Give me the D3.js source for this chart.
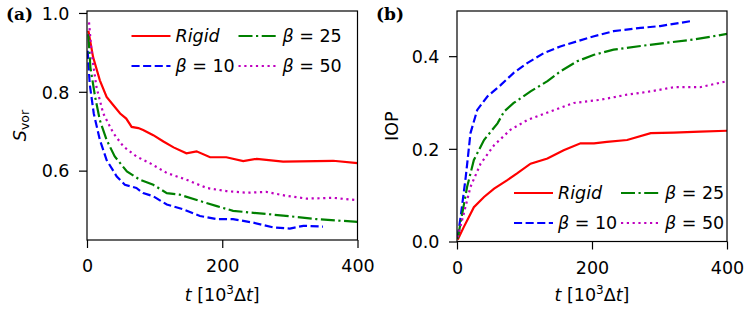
<!DOCTYPE html>
<html>
<head>
<meta charset="utf-8">
<script src="https://cdn.jsdelivr.net/npm/d3@7.9.0/dist/d3.min.js"></script>
<style>
  body { margin: 0; background: #fff; }
  svg { display: block; font-family: "DejaVu Sans", sans-serif; }
</style>
</head>
<body>
<svg id="chart" width="748" height="310"></svg>
<script>
// series names, in legend order
const seriesNames = ["Rigid", "β = 10", "β = 25", "β = 50"];
const xTicks = [0, 200, 400];
const yTicksA = [0.6, 0.8, 1.0];
const yTicksB = [0.0, 0.2, 0.4];

// panel (a): S_vor against t as [t, value]
const svorRigid = [[2, 0.955], [9, 0.888], [19, 0.829], [29, 0.787], [39, 0.766], [49, 0.745], [58, 0.732],
  [66, 0.711], [76, 0.708], [83, 0.703], [98, 0.690], [113, 0.674], [128, 0.659], [147, 0.644],
  [162, 0.649], [182, 0.634], [206, 0.634], [231, 0.624], [251, 0.630], [290, 0.623], [339, 0.624],
  [364, 0.625], [400, 0.619]];
const svorB10 = [[1, 0.904], [4, 0.820], [10, 0.745], [19, 0.678], [29, 0.627], [44, 0.585], [56, 0.564],
  [73, 0.556], [83, 0.543], [98, 0.535], [118, 0.514], [142, 0.502], [167, 0.485], [192, 0.477],
  [216, 0.477], [246, 0.468], [275, 0.456], [300, 0.453], [320, 0.460], [349, 0.458]];
const svorB25 = [[2, 0.946], [5, 0.862], [12, 0.787], [19, 0.728], [29, 0.678], [41, 0.636], [59, 0.598],
  [78, 0.577], [98, 0.564], [118, 0.543], [137, 0.539], [167, 0.523], [192, 0.510], [216, 0.498],
  [246, 0.493], [290, 0.486], [339, 0.477], [400, 0.470]];
const svorB50 = [[3, 0.976], [7, 0.896], [14, 0.812], [24, 0.745], [39, 0.695], [54, 0.661], [73, 0.636],
  [93, 0.619], [118, 0.594], [147, 0.577], [177, 0.556], [206, 0.548], [236, 0.544], [265, 0.546],
  [295, 0.536], [325, 0.529], [364, 0.531], [400, 0.525]];

// panel (b): IOP against t
const iopRigid = [[1, 0.004], [10, 0.031], [25, 0.074], [40, 0.096], [55, 0.114], [74, 0.132], [89, 0.147],
  [109, 0.168], [134, 0.179], [158, 0.197], [183, 0.212], [203, 0.212], [222, 0.215], [252, 0.219],
  [287, 0.234], [321, 0.235], [360, 0.237], [400, 0.239]];
const iopB10 = [[1, 0.009], [6, 0.060], [13, 0.140], [20, 0.234], [30, 0.284], [45, 0.313], [65, 0.338],
  [84, 0.364], [104, 0.385], [129, 0.407], [153, 0.421], [178, 0.432], [203, 0.443], [232, 0.454],
  [272, 0.461], [301, 0.465], [331, 0.472], [348, 0.476]];
const iopB25 = [[1, 0.006], [6, 0.046], [15, 0.118], [25, 0.176], [40, 0.219], [60, 0.255], [70, 0.281],
  [84, 0.299], [109, 0.324], [134, 0.346], [153, 0.367], [178, 0.389], [203, 0.403], [232, 0.414],
  [272, 0.422], [311, 0.429], [351, 0.436], [400, 0.448]];
const iopB50 = [[1, 0.009], [10, 0.060], [20, 0.118], [35, 0.168], [55, 0.208], [79, 0.241], [104, 0.262],
  [139, 0.281], [173, 0.299], [213, 0.306], [252, 0.317], [287, 0.324], [321, 0.333], [360, 0.333],
  [400, 0.346]];

const colors = ["#ff0000", "#0000ff", "#008000", "#bf00bf"];
const dashes = [null, "8.1,3.5", "14,3.5,2.2,3.5", "2.2,3.6"];

const svg = d3.select("#chart");

function panel(cfg) {
  const x = d3.scaleLinear().domain([0, 400]).range([cfg.left, cfg.right]);
  const y = d3.scaleLinear().domain(cfg.yDomain).range([cfg.bottom, cfg.top]);
  const g = svg.append("g");

  g.append("clipPath").attr("id", cfg.id)
    .append("rect")
    .attr("x", cfg.left).attr("y", cfg.top)
    .attr("width", cfg.right - cfg.left).attr("height", cfg.bottom - cfg.top);

  const line = d3.line().x(d => x(d[0])).y(d => y(d[1]));
  g.append("g").attr("clip-path", `url(#${cfg.id})`)
    .selectAll("path")
    .data(cfg.series)
    .join("path")
    .attr("d", d => line(d))
    .attr("fill", "none")
    .attr("stroke", (d, i) => colors[i])
    .attr("stroke-width", 2.2)
    .attr("stroke-dasharray", (d, i) => dashes[i]);

  // axes
  const xa = g.append("g").attr("transform", `translate(0,${cfg.bottom})`)
    .call(d3.axisBottom(x).tickValues(xTicks).tickSize(8).tickSizeOuter(0).tickPadding(12).tickFormat(d3.format("d")));
  const ya = g.append("g").attr("transform", `translate(${cfg.left},0)`)
    .call(d3.axisLeft(y).tickValues(cfg.yTicks).tickSize(8).tickSizeOuter(0).tickPadding(9.5).tickFormat(d3.format(".1f")));
  [xa, ya].forEach(a => {
    a.select(".domain").remove();
    a.selectAll("line").attr("stroke", "#000").attr("stroke-width", 1.2);
    a.selectAll("text").attr("font-size", 17.5).attr("fill", "#000").attr("font-family", "DejaVu Sans");
  });
  ya.selectAll("text").attr("dy", "0.36em");

  g.append("rect")
    .attr("x", cfg.left).attr("y", cfg.top)
    .attr("width", cfg.right - cfg.left).attr("height", cfg.bottom - cfg.top)
    .attr("fill", "none").attr("stroke", "#000").attr("stroke-width", 1.2);

  // x label: t [10^3 Δt]
  const xl = g.append("text")
    .attr("x", (cfg.left + cfg.right) / 2).attr("y", 301)
    .attr("text-anchor", "middle").attr("font-size", 17.5);
  xl.append("tspan").attr("font-style", "italic").text("t");
  xl.append("tspan").text(" [10");
  xl.append("tspan").attr("font-size", 12).attr("dy", -7).text("3");
  xl.append("tspan").attr("dy", 7).text("Δ");
  xl.append("tspan").attr("font-style", "italic").text("t");
  xl.append("tspan").text("]");

  // y label
  const yl = g.append("text")
    .attr("transform", `translate(${cfg.yLabelX},${(cfg.top + cfg.bottom) / 2}) rotate(-90)`)
    .attr("text-anchor", "middle").attr("font-size", 17.5);
  cfg.yLabel(yl);

  // panel letter
  g.append("text")
    .attr("x", cfg.letterX).attr("y", 20)
    .attr("font-family", "DejaVu Serif").attr("font-weight", "bold").attr("font-size", 17)
    .text(cfg.letter);

  // legend
  const leg = g.append("g");
  seriesNames.forEach((name, i) => {
    const col = Math.floor(i / 2), row = i % 2;
    const lx = cfg.legX[col], ly = cfg.legY[row];
    leg.append("line")
      .attr("x1", lx).attr("x2", lx + 39).attr("y1", ly).attr("y2", ly)
      .attr("stroke", colors[i]).attr("stroke-width", 2.2)
      .attr("stroke-dasharray", dashes[i]);
    const t = leg.append("text")
      .attr("x", lx + 44).attr("y", ly).attr("dy", "0.36em")
      .attr("font-size", 17.5);
    if (name === "Rigid") {
      t.attr("font-style", "italic").text(name);
    } else {
      t.append("tspan").attr("font-style", "italic").text("β");
      t.append("tspan").text(name.slice(1));
    }
  });
}

panel({
  id: "clipA", letter: "(a)", letterX: 6,
  left: 87, right: 357.5, top: 11, bottom: 240,
  yDomain: [0.424, 1.005], yTicks: yTicksA,
  series: [svorRigid, svorB10, svorB25, svorB50],
  yLabelX: 26,
  yLabel: t => {
    t.append("tspan").attr("font-style", "italic").text("S");
    t.append("tspan").attr("font-size", 12.5).attr("dy", 3).text("vor");
  },
  legX: [131.5, 238.5], legY: [36, 66]
});

panel({
  id: "clipB", letter: "(b)", letterX: 376,
  left: 457, right: 727, top: 11, bottom: 241.5,
  yDomain: [0, 0.4975], yTicks: yTicksB,
  series: [iopRigid, iopB10, iopB25, iopB50],
  yLabelX: 398,
  yLabel: t => t.text("IOP"),
  legX: [514, 621], legY: [193, 223]
});
</script>
</body>
</html>
